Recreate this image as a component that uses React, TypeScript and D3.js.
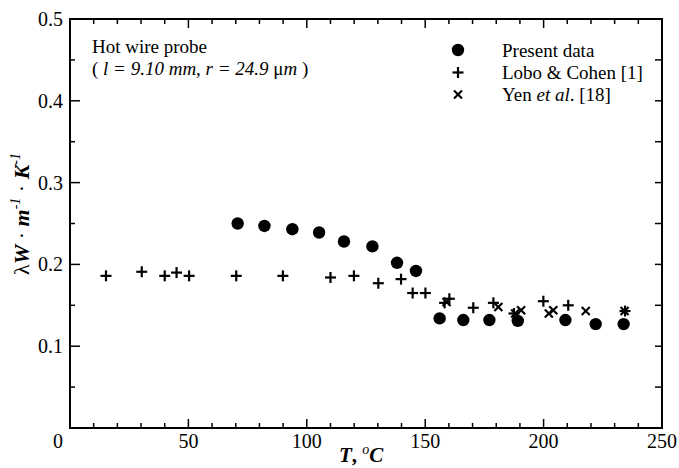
import React from "react";
import * as d3 from "d3";

const presentT = [70.8, 82.1, 93.9, 105.2, 115.7, 127.7, 138.1, 146.1, 156.1, 166.1, 177.1, 189.1, 209.2, 222.0, 233.8];
const presentL = [0.250, 0.247, 0.243, 0.239, 0.228, 0.222, 0.202, 0.192, 0.134, 0.132, 0.132, 0.131, 0.132, 0.127, 0.127];

const loboT = [15.2, 30.3, 40.0, 45.0, 50.3, 70.2, 89.9, 110.0, 119.9, 130.2, 139.8, 144.7, 150.1, 158.2, 160.2, 170.3, 178.8, 187.5, 199.9, 210.4, 234.4];
const loboL = [0.186, 0.191, 0.186, 0.190, 0.186, 0.186, 0.186, 0.184, 0.186, 0.177, 0.182, 0.165, 0.165, 0.153, 0.158, 0.147, 0.153, 0.140, 0.155, 0.150, 0.143];

const yenT = [159.0, 180.9, 188.0, 190.5, 202.2, 204.1, 217.8, 234.2];
const yenL = [0.154, 0.148, 0.140, 0.144, 0.140, 0.144, 0.143, 0.143];

const xTicks = [0, 50, 100, 150, 200, 250];
const yTicks = [0.1, 0.2, 0.3, 0.4, 0.5];

const legendItems = ["Present data", "Lobo & Cohen [1]", "Yen et al. [18]"];

const W = 679;
const H = 468;
const FONT = "'Liberation Serif', 'Times New Roman', serif";

export default function App() {
  const x = d3.scaleLinear().domain([0, 250]).range([70, 662]);
  const y = d3.scaleLinear().domain([0, 0.5]).range([428, 19]);
  const x0 = x(0), x1 = x(250), y0 = y(0), y1 = y(0.5);

  const xMinor = d3.range(0, 251, 10);
  const yMinor = d3.range(0, 0.501, 0.05);

  const plus = (cx: number, cy: number, s: number, k: string) => (
    <g key={k} stroke="#000" strokeWidth={2.2}>
      <line x1={cx - s} x2={cx + s} y1={cy} y2={cy} />
      <line x1={cx} x2={cx} y1={cy - s} y2={cy + s} />
    </g>
  );
  const cross = (cx: number, cy: number, s: number, k: string) => (
    <g key={k} stroke="#000" strokeWidth={2.2}>
      <line x1={cx - s} x2={cx + s} y1={cy - s} y2={cy + s} />
      <line x1={cx - s} x2={cx + s} y1={cy + s} y2={cy - s} />
    </g>
  );

  return (
    <svg width={W} height={H} style={{ position: "absolute", left: 0, top: 0 }} fontFamily={FONT}>
      <rect width={W} height={H} fill="#fff" />
      {/* frame */}
      <rect x={x0} y={y1} width={x1 - x0} height={y0 - y1} fill="none" stroke="#000" strokeWidth={2} />
      {/* x ticks bottom & top */}
      {xMinor.map((v) => {
        const major = v % 50 === 0;
        const len = major ? 9 : 5;
        return (
          <g key={"xt" + v} stroke="#000" strokeWidth={1.5}>
            <line x1={x(v)} x2={x(v)} y1={y0} y2={y0 - len} />
            <line x1={x(v)} x2={x(v)} y1={y1} y2={y1 + len} />
          </g>
        );
      })}
      {/* y ticks left & right */}
      {yMinor.map((v, i) => {
        const major = i % 2 === 0;
        const len = major ? 10 : 5;
        return (
          <g key={"yt" + i} stroke="#000" strokeWidth={1.5}>
            <line x1={x0} x2={x0 + len} y1={y(v)} y2={y(v)} />
            <line x1={x1} x2={x1 - 7} y1={y(v)} y2={y(v)} />
          </g>
        );
      })}
      {/* tick labels */}
      {xTicks.map((v) => (
        <text key={"xl" + v} x={v === 0 ? x(v) - 12 : x(v)} y={448} textAnchor="middle" fontSize={20} fill="#000">
          {v}
        </text>
      ))}
      {yTicks.map((v) => (
        <text key={"yl" + v} x={63} y={y(v) + 7} textAnchor="end" fontSize={20} fill="#000">
          {v.toFixed(1)}
        </text>
      ))}
      {/* axis titles */}
      <text x={339} y={462} fontSize={21} fill="#000">
        <tspan fontWeight="bold" fontStyle="italic">T</tspan>
        <tspan fontWeight="bold">, </tspan>
        <tspan fontStyle="italic" fontSize={14} dy={-8}>o</tspan>
        <tspan fontWeight="bold" fontStyle="italic" dy={8}>C</tspan>
      </text>
      <text transform="translate(29,214) rotate(-90)" textAnchor="middle" fontSize={22} fill="#000">
        <tspan>λ</tspan>
        <tspan fontWeight="bold" fontStyle="italic">W</tspan>
        <tspan> · </tspan>
        <tspan fontWeight="bold" fontStyle="italic">m</tspan>
        <tspan fontStyle="italic" fontSize={14} dy={-9}>-1</tspan>
        <tspan dy={9}> · </tspan>
        <tspan fontWeight="bold" fontStyle="italic">K</tspan>
        <tspan fontStyle="italic" fontSize={14} dy={-9}>-1</tspan>
      </text>
      {/* annotation */}
      <text x={92} y={53} fontSize={19} fill="#000">Hot wire probe</text>
      <text x={92} y={75} fontSize={19} fill="#000">
        <tspan>( </tspan>
        <tspan fontStyle="italic">l = 9.10 mm, r = 24.9 </tspan>
        <tspan>μ</tspan>
        <tspan fontStyle="italic">m</tspan>
        <tspan> )</tspan>
      </text>
      {/* data */}
      {presentT.map((t, i) => (
        <circle key={"p" + i} cx={x(t)} cy={y(presentL[i])} r={6.2} fill="#000" />
      ))}
      {loboT.map((t, i) => plus(x(t), y(loboL[i]), 5.5, "l" + i))}
      {yenT.map((t, i) => cross(x(t), y(yenL[i]), 4, "y" + i))}
      {/* legend */}
      <circle cx={458} cy={50} r={6.2} fill="#000" />
      {plus(458, 72.5, 5.5, "lg1")}
      {cross(458, 94.5, 4, "lg2")}
      <text x={502} y={57} fontSize={19} fill="#000">{legendItems[0]}</text>
      <text x={502} y={79} fontSize={19} fill="#000">{legendItems[1]}</text>
      <text x={502} y={101} fontSize={19} fill="#000">
        <tspan>Yen </tspan>
        <tspan fontStyle="italic">et al</tspan>
        <tspan>. [18]</tspan>
      </text>
    </svg>
  );
}
